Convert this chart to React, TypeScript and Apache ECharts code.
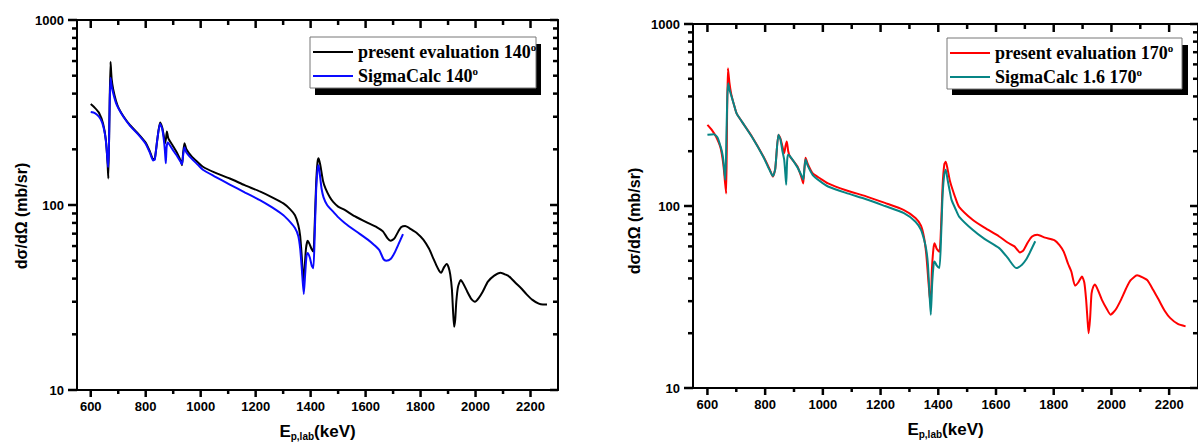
import React, { useEffect, useRef } from "react";
import * as echarts from "echarts";

// ---- tick values ----
const xMajorTicks = [600, 800, 1000, 1200, 1400, 1600, 1800, 2000, 2200];
const xMinorTicks = [700, 900, 1100, 1300, 1500, 1700, 1900, 2100];
const yMajorTicks = [10, 100, 1000];
const yMinorTicks = [20, 30, 40, 50, 60, 70, 80, 90, 200, 300, 400, 500, 600, 700, 800, 900];
const X_MIN = 550;
const X_MAX = 2300;
const Y_MIN = 10;
const Y_MAX = 1000;

// ---- series names ----
const leftNames = ["present evaluation 140°", "SigmaCalc 140°"];
const rightNames = ["present evaluation 170°", "SigmaCalc 1.6 170°"];

// ---- left panel: present evaluation 140° [E (keV), dσ/dΩ (mb/sr)] ----
const eval140: number[][] = [
  [600, 351], [615, 335], [630, 315], [645, 275], [655, 225], [661, 170], [664, 139], [668, 300],
  [672, 595], [676, 480], [682, 420], [692, 365], [702, 333], [720, 300], [743, 270], [770, 245],
  [799, 218], [815, 195], [827, 177], [833, 178], [842, 225], [852, 279], [860, 262], [866, 235],
  [870, 215], [874, 230], [877, 250], [882, 230], [897, 211], [915, 190], [928, 172], [932, 164],
  [936, 190], [941, 216], [948, 200], [967, 183], [990, 170], [1008, 161], [1050, 150], [1106, 139],
  [1160, 128], [1217, 118], [1260, 110], [1301, 102], [1325, 95], [1343, 88], [1355, 78], [1362, 68],
  [1368, 52], [1374, 38], [1378, 45], [1383, 58], [1389, 64], [1395, 62], [1403, 58], [1410, 56],
  [1415, 80], [1420, 130], [1425, 170], [1429, 179], [1435, 165], [1445, 135], [1454, 123], [1470, 110],
  [1482, 104], [1500, 98], [1524, 94], [1560, 87], [1608, 80], [1640, 76], [1663, 72], [1680, 66],
  [1691, 64], [1705, 66], [1719, 72], [1730, 76], [1744, 77], [1765, 74], [1789, 70], [1810, 65],
  [1831, 58], [1845, 52], [1858, 47], [1868, 44], [1875, 43], [1885, 46], [1895, 48], [1902, 46],
  [1908, 42], [1914, 35], [1918, 27], [1922, 22], [1926, 24], [1930, 30], [1936, 36], [1946, 39.3],
  [1958, 37], [1970, 34], [1985, 31], [1998, 30], [2012, 31.5], [2026, 34], [2045, 38.5], [2068, 41.5],
  [2091, 43], [2110, 42], [2123, 41], [2145, 38], [2165, 35.6], [2185, 33], [2207, 30.7], [2230, 29.3],
  [2245, 29], [2260, 29],
];

// ---- left panel: SigmaCalc 140° ----
const sigma140: number[][] = [
  [600, 318], [615, 314], [630, 300], [642, 278], [652, 240], [658, 200], [663, 160], [666, 200],
  [669, 360], [672, 488], [676, 440], [682, 400], [692, 355], [702, 330], [720, 298], [743, 268],
  [770, 243], [799, 215], [815, 192], [827, 174], [833, 176], [842, 225], [852, 275], [860, 258],
  [866, 225], [870, 195], [873, 168], [876, 205], [880, 218], [897, 200], [915, 183], [928, 170],
  [932, 166], [936, 185], [941, 205], [948, 192], [967, 178], [990, 165], [1008, 155], [1050, 143],
  [1106, 129], [1160, 117], [1217, 106], [1260, 97], [1301, 88], [1325, 81], [1343, 75], [1355, 68],
  [1362, 58], [1368, 45], [1375, 33], [1380, 42], [1385, 53], [1389, 55], [1397, 52], [1404, 47],
  [1410, 45.5], [1415, 70], [1420, 120], [1425, 155], [1429, 164], [1435, 140], [1440, 122], [1447, 110],
  [1460, 100], [1482, 92], [1500, 86], [1524, 80], [1560, 73], [1608, 65], [1630, 61], [1650, 57],
  [1665, 51], [1675, 50], [1691, 51], [1705, 55], [1719, 61], [1736, 69.6],
];

// ---- right panel: present evaluation 170° ----
const eval170: number[][] = [
  [600, 279], [615, 262], [630, 240], [645, 210], [655, 170], [661, 135], [665, 117], [668, 300],
  [671, 571], [676, 480], [682, 416], [692, 360], [701, 323], [720, 290], [754, 241], [794, 187],
  [815, 160], [827, 145], [835, 160], [846, 246], [853, 235], [860, 212], [866, 195], [871, 215],
  [875, 226], [880, 200], [886, 187], [912, 165], [925, 145], [932, 133], [936, 160], [940, 184],
  [948, 170], [965, 151], [990, 142], [1018, 133], [1080, 122], [1150, 113], [1215, 104], [1281, 95],
  [1321, 86], [1340, 78], [1350, 68], [1358, 55], [1364, 42], [1370, 32], [1374, 30], [1378, 45],
  [1383, 58], [1387, 62.5], [1395, 58], [1404, 56], [1410, 80], [1415, 130], [1421, 170], [1426, 175],
  [1432, 160], [1440, 138], [1446, 128], [1460, 110], [1472, 99], [1519, 84], [1560, 76], [1611, 68],
  [1640, 63], [1664, 60], [1683, 55.6], [1695, 57], [1710, 63], [1725, 68], [1743, 69.5], [1770, 67],
  [1802, 65], [1820, 61], [1835, 56], [1850, 48], [1861, 43.7], [1874, 36.5], [1885, 38], [1898, 41],
  [1906, 38], [1912, 31], [1917, 24], [1921, 20], [1926, 24], [1931, 33], [1937, 36], [1943, 37],
  [1955, 34], [1967, 30.5], [1985, 27], [1997, 25.3], [2015, 27], [2033, 30.5], [2050, 35], [2066, 39],
  [2089, 41.6], [2108, 40.5], [2125, 39], [2145, 34.5], [2164, 30.5], [2185, 26.5], [2204, 24.2], [2230, 22.5],
  [2257, 21.8],
];

// ---- right panel: SigmaCalc 1.6 170° ----
const sigma170: number[][] = [
  [600, 246], [622, 248], [635, 238], [642, 221], [650, 200], [655, 179], [662, 139], [666, 250],
  [669, 400], [672, 472], [676, 440], [682, 407], [692, 360], [701, 323], [720, 290], [754, 240],
  [794, 186], [815, 158], [827, 146], [835, 160], [846, 246], [853, 232], [860, 200], [866, 180],
  [870, 150], [873, 131], [876, 175], [879, 191], [886, 188], [912, 163], [925, 148], [932, 140],
  [936, 160], [940, 180], [948, 166], [965, 148], [990, 137], [1018, 128], [1080, 118], [1150, 109],
  [1215, 100], [1281, 91.4], [1321, 82], [1340, 74], [1350, 66], [1358, 58], [1364, 48], [1370, 32],
  [1374, 25.3], [1379, 38], [1384, 48], [1387, 49.6], [1395, 47], [1404, 45.6], [1410, 70], [1415, 115],
  [1421, 150], [1426, 158], [1432, 140], [1440, 120], [1446, 108], [1460, 96], [1472, 87.5], [1519, 74],
  [1560, 66], [1611, 58.7], [1640, 52], [1670, 45.6], [1690, 47.6], [1705, 51], [1716, 55], [1736, 64],
];

const SANS = "Liberation Sans";
const SERIF = "Liberation Serif";
const plain = (v: number) => String(v);
const TICK_STYLE = { stroke: "#000", lineWidth: 2.5 };

function xAxesFor(gridIndex: number) {
  const base = { type: "value", gridIndex, min: X_MIN, max: X_MAX, splitLine: { show: false } };
  const line = { show: true, onZero: false, lineStyle: { color: "#000", width: 2 } };
  return [
    {
      ...base,
      position: "bottom",
      axisLine: line,
      axisTick: { show: false },
      axisLabel: {
        show: true, customValues: xMajorTicks, margin: 10, color: "#000", formatter: plain,
        fontFamily: SANS, fontWeight: "bold", fontSize: 13,
      },
      name: "{e|E}{s|p,lab}{e|(keV)}",
      nameLocation: "middle",
      nameGap: 33,
      nameTextStyle: {
        rich: {
          e: { fontFamily: SANS, fontWeight: "bold", fontSize: 17, lineHeight: 18, verticalAlign: "top", color: "#000" },
          s: { fontFamily: SANS, fontWeight: "bold", fontSize: 10, lineHeight: 10, verticalAlign: "bottom", padding: [12, 0, 0, 0], color: "#000" },
        },
      },
    },
    { ...base, position: "top", axisLine: line, axisTick: { show: false }, axisLabel: { show: false } },
  ];
}

function yAxesFor(gridIndex: number, nameGap: number, namePad: number) {
  const base = { type: "log", logBase: 10, gridIndex, min: Y_MIN, max: Y_MAX, splitLine: { show: false } };
  const line = { show: true, onZero: false, lineStyle: { color: "#000", width: 2 } };
  return [
    {
      ...base,
      position: "left",
      axisLine: line,
      axisTick: { show: false },
      axisLabel: {
        show: true, customValues: yMajorTicks, margin: 13, color: "#000", formatter: plain,
        fontFamily: SANS, fontWeight: "bold", fontSize: 13,
      },
      name: "dσ/dΩ (mb/sr)",
      nameLocation: "middle",
      nameRotate: 90,
      nameGap,
      nameTextStyle: {
        fontFamily: SANS, fontWeight: "bold", fontSize: 16, color: "#000",
        padding: [0, namePad, 0, 0],
      },
    },
    { ...base, position: "right", axisLine: line, axisTick: { show: false }, axisLabel: { show: false } },
  ];
}

// tick marks placed through the axes' own scales (api.coord)
function xTickSeries(axisIdx: number, values: number[], outLen: number, inLen: number) {
  return {
    type: "custom",
    xAxisIndex: axisIdx,
    yAxisIndex: axisIdx,
    silent: true,
    clip: false,
    z: 5,
    data: values.map((v) => [v, Y_MIN]),
    renderItem: (_p: any, api: any) => {
      const b = api.coord([api.value(0), Y_MIN]);
      const t = api.coord([api.value(0), Y_MAX]);
      return {
        type: "group",
        children: [
          { type: "line", shape: { x1: b[0], y1: b[1], x2: b[0], y2: b[1] + outLen }, style: TICK_STYLE },
          { type: "line", shape: { x1: t[0], y1: t[1], x2: t[0], y2: t[1] + inLen }, style: TICK_STYLE },
        ],
      };
    },
  };
}

function yTickSeries(axisIdx: number, values: number[], outLen: number, inLen: number) {
  return {
    type: "custom",
    xAxisIndex: axisIdx,
    yAxisIndex: axisIdx,
    silent: true,
    clip: false,
    z: 5,
    data: values.map((v) => [X_MIN, v]),
    renderItem: (_p: any, api: any) => {
      const l = api.coord([X_MIN, api.value(1)]);
      const r = api.coord([X_MAX, api.value(1)]);
      return {
        type: "group",
        children: [
          { type: "line", shape: { x1: l[0] - outLen, y1: l[1], x2: l[0], y2: l[1] }, style: TICK_STYLE },
          { type: "line", shape: { x1: r[0] - inLen, y1: r[1], x2: r[0], y2: r[1] }, style: TICK_STYLE },
        ],
      };
    },
  };
}

function legendFor(names: string[], left: number, top: number) {
  return {
    orient: "vertical",
    left,
    top,
    padding: [4, 5, 0, 3],
    itemGap: 4,
    itemWidth: 40,
    itemHeight: 2,
    icon: "rect",
    selectedMode: false,
    backgroundColor: "transparent",
    borderWidth: 0,
    z: 10,
    data: names,
    formatter: (n: string) => "{t|" + n.replace("°", "") + "}{s|o}",
    textStyle: {
      rich: {
        t: { fontFamily: SERIF, fontWeight: "bold", fontSize: 18, lineHeight: 22, color: "#000" },
        s: { fontFamily: SERIF, fontWeight: "bold", fontSize: 11, lineHeight: 11, verticalAlign: "top", color: "#000" },
      },
    },
  };
}

function lineSeries(name: string, data: number[][], color: string, axisIdx: number) {
  return {
    type: "line",
    name,
    data,
    xAxisIndex: axisIdx,
    yAxisIndex: axisIdx,
    symbol: "none",
    showSymbol: false,
    smooth: 0.2,
    lineStyle: { color, width: 2 },
    itemStyle: { color },
    z: 3,
  };
}

export default function App() {
  const ref = useRef<HTMLDivElement>(null);
  useEffect(() => {
    if (!ref.current) return;
    const chart = echarts.init(ref.current, undefined, { renderer: "svg" });
    chart.setOption({
      animation: false,
      backgroundColor: "#fff",
      grid: [
        { left: 77, top: 20, width: 481, height: 370 },
        { left: 693, top: 24, width: 507, height: 364 },
      ],
      xAxis: [...xAxesFor(0), ...xAxesFor(1)],
      yAxis: [...yAxesFor(0, 48, 22), ...yAxesFor(1, 51, 30)],
      legend: [legendFor(leftNames, 310, 37), legendFor(rightNames, 947, 38)],
      graphic: [
        { type: "rect", z: 6, shape: { x: 315, y: 44, width: 226, height: 51 }, style: { fill: "#000" } },
        { type: "rect", z: 7, shape: { x: 310, y: 37, width: 226, height: 51 }, style: { fill: "#fff", stroke: "#777", lineWidth: 1 } },
        { type: "rect", z: 6, shape: { x: 952, y: 45, width: 236, height: 50 }, style: { fill: "#000" } },
        { type: "rect", z: 7, shape: { x: 947, y: 38, width: 235, height: 51 }, style: { fill: "#fff", stroke: "#777", lineWidth: 1 } },
      ],
      series: [
        lineSeries(leftNames[0], eval140, "#000000", 0),
        lineSeries(leftNames[1], sigma140, "#0a0aff", 0),
        lineSeries(rightNames[0], eval170, "#ff0000", 2),
        lineSeries(rightNames[1], sigma170, "#078585", 2),
        xTickSeries(0, xMajorTicks, 7, 8),
        xTickSeries(0, xMinorTicks, 4, 5),
        yTickSeries(0, yMajorTicks, 9, 8),
        yTickSeries(0, yMinorTicks, 5, 5),
        xTickSeries(2, xMajorTicks, 7, 8),
        xTickSeries(2, xMinorTicks, 4, 5),
        yTickSeries(2, yMajorTicks, 9, 8),
        yTickSeries(2, yMinorTicks, 5, 5),
      ],
    });
    return () => chart.dispose();
  }, []);
  return (
    <div
      ref={ref}
      style={{ position: "fixed", left: 0, top: 0, width: 1198, height: 446, overflow: "hidden", background: "#fff" }}
    />
  );
}
